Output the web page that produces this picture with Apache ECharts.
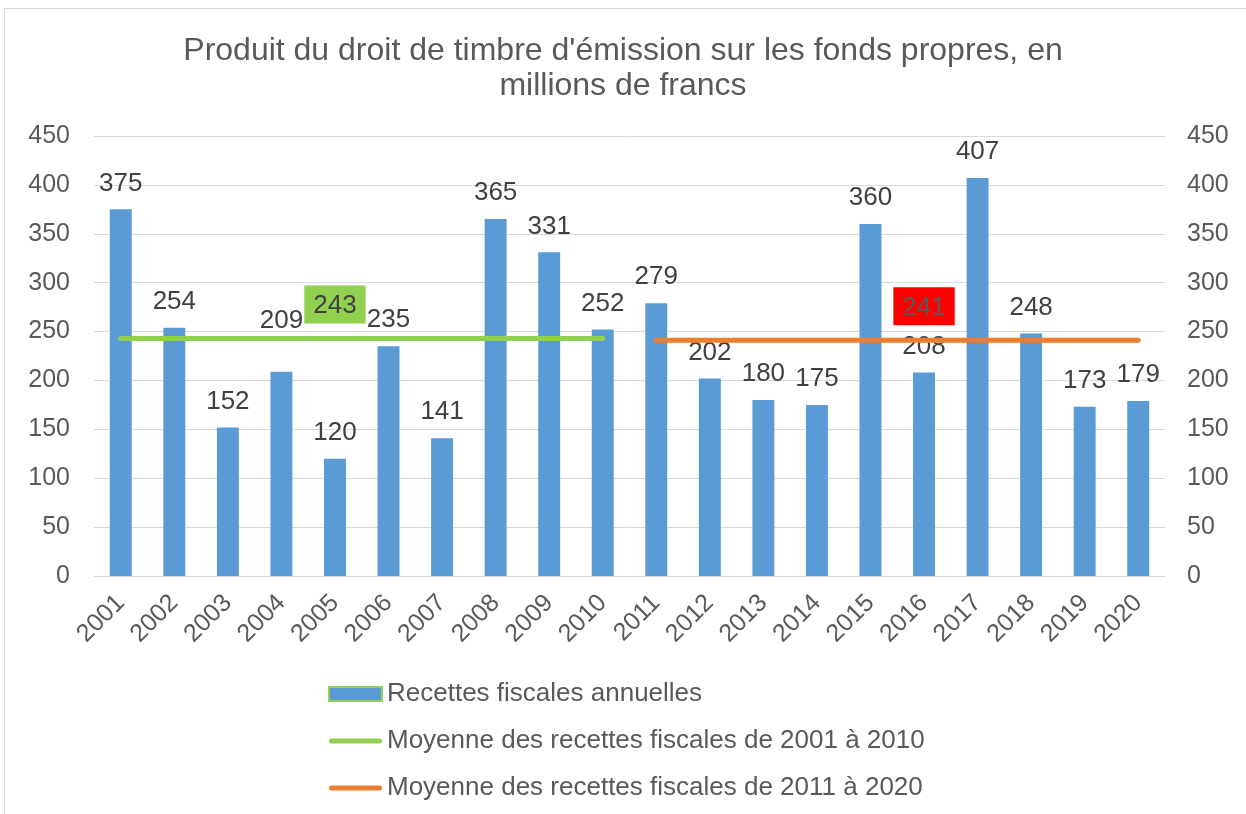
<!DOCTYPE html>
<html>
<head>
<meta charset="utf-8">
<script src="https://cdn.jsdelivr.net/npm/echarts@6/dist/echarts.min.js"></script>
<style>
  html, body { margin: 0; padding: 0; background: #fff; }
  #frame { position: absolute; left: 4px; top: 8px; width: 1250px; height: 820px; border: 1px solid #d9d9d9; box-sizing: border-box; }
  #chart { position: absolute; left: 0; top: 0; width: 1246px; height: 814px; }
</style>
</head>
<body>
<div id="frame"></div>
<div id="chart"></div>
<script>
// données
var years = ['2001','2002','2003','2004','2005','2006','2007','2008','2009','2010',
             '2011','2012','2013','2014','2015','2016','2017','2018','2019','2020'];
var recettes = [375, 254, 152, 209, 120, 235, 141, 365, 331, 252,
                279, 202, 180, 175, 360, 208, 407, 248, 173, 179];
var moyenne1 = 243;   // 2001 - 2010
var moyenne2 = 241;   // 2011 - 2020
var yTicks = [0, 50, 100, 150, 200, 250, 300, 350, 400, 450];

var grey = '#595959';
var font = '"Liberation Sans", Arial, sans-serif';
// icone de légende pour les lignes (trait épais arrondi)
var lineIcon = 'path://M2.5,0 H50.5 A2.5,2.5 0 0 1 50.5,5 H2.5 A2.5,2.5 0 0 1 2.5,0 Z';

// séries des moyennes (une valeur par année de la période, null ailleurs)
var moy1Data = years.map(function (y, i) { return i < 10 ? moyenne1 : null; });
var moy2Data = years.map(function (y, i) { return i >= 10 ? moyenne2 : null; });

// l'étiquette de 2004 est remontée au-dessus de la ligne verte
var barData = recettes.map(function (v, i) {
  if (years[i] === '2004') return { value: v, label: { distance: 38 } };
  return v;
});

// met l'étiquette encadrée sur un seul point de la ligne
function labelAt(arr, idx, bg, txtColor) {
  return arr.map(function (v, i) {
    if (i !== idx) return v;
    return {
      value: v,
      label: {
        show: true, position: 'top', distance: 15,
        backgroundColor: bg, color: txtColor,
        padding: [7, 9, 5, 9], fontSize: 26, fontFamily: font
      }
    };
  });
}

var myChart = echarts.init(document.getElementById('chart'));

var option = {
  animation: false,
  textStyle: { fontFamily: font },
  title: {
    text: "Produit du droit de timbre d'émission sur les fonds propres, en\nmillions de francs",
    left: 'center',
    top: 29,
    textStyle: { fontSize: 32, fontWeight: 'normal', color: grey, lineHeight: 35, fontFamily: font }
  },
  legend: {
    orient: 'vertical',
    left: 328,
    top: 681,
    padding: 0,
    itemWidth: 53,
    itemHeight: 14,
    itemGap: 21,
    textStyle: { fontSize: 26, color: grey, fontFamily: font },
    data: [
      { name: 'Recettes fiscales annuelles', icon: 'rect',
        itemStyle: { color: '#5B9BD5', borderColor: '#92D050', borderWidth: 2 } },
      { name: 'Moyenne des recettes fiscales de 2001 à 2010', icon: lineIcon },
      { name: 'Moyenne des recettes fiscales de 2011 à 2020', icon: lineIcon }
    ]
  },
  grid: { left: 94, right: 81, top: 136, bottom: 238 },
  xAxis: {
    type: 'category',
    data: years,
    axisLine: { lineStyle: { color: '#d9d9d9' } },
    axisTick: { show: false },
    axisLabel: { rotate: 45, fontSize: 25, color: grey, margin: 23, fontFamily: font }
  },
  yAxis: [
    {
      type: 'value', min: yTicks[0], max: yTicks[yTicks.length - 1], interval: 50,
      axisLabel: { fontSize: 25, color: grey, margin: 24, fontFamily: font },
      splitLine: { lineStyle: { color: '#d9d9d9' } },
      axisLine: { show: false }, axisTick: { show: false }
    },
    {
      type: 'value', min: yTicks[0], max: yTicks[yTicks.length - 1], interval: 50,
      position: 'right',
      axisLabel: { fontSize: 25, color: grey, margin: 22, fontFamily: font },
      splitLine: { show: false },
      axisLine: { show: false }, axisTick: { show: false }
    }
  ],
  series: [
    {
      name: 'Recettes fiscales annuelles',
      type: 'bar',
      data: barData,
      barWidth: '41%',
      itemStyle: { color: '#5B9BD5' },
      label: { show: true, position: 'top', distance: 13, fontSize: 26, color: '#404040', fontFamily: font }
    },
    {
      name: 'Moyenne des recettes fiscales de 2001 à 2010',
      type: 'line',
      data: labelAt(moy1Data, 4, '#92D050', '#404040'),
      symbol: 'circle',
      symbolSize: 0,
      showSymbol: true,
      lineStyle: { color: '#92D050', width: 5, cap: 'round' },
      itemStyle: { color: '#92D050' },
      z: 3
    },
    {
      name: 'Moyenne des recettes fiscales de 2011 à 2020',
      type: 'line',
      yAxisIndex: 1,
      data: labelAt(moy2Data, 15, '#FF0000', '#595959'),
      symbol: 'circle',
      symbolSize: 0,
      showSymbol: true,
      lineStyle: { color: '#ED7D31', width: 5, cap: 'round' },
      itemStyle: { color: '#ED7D31' },
      z: 3
    }
  ]
};

myChart.setOption(option);
</script>
</body>
</html>
